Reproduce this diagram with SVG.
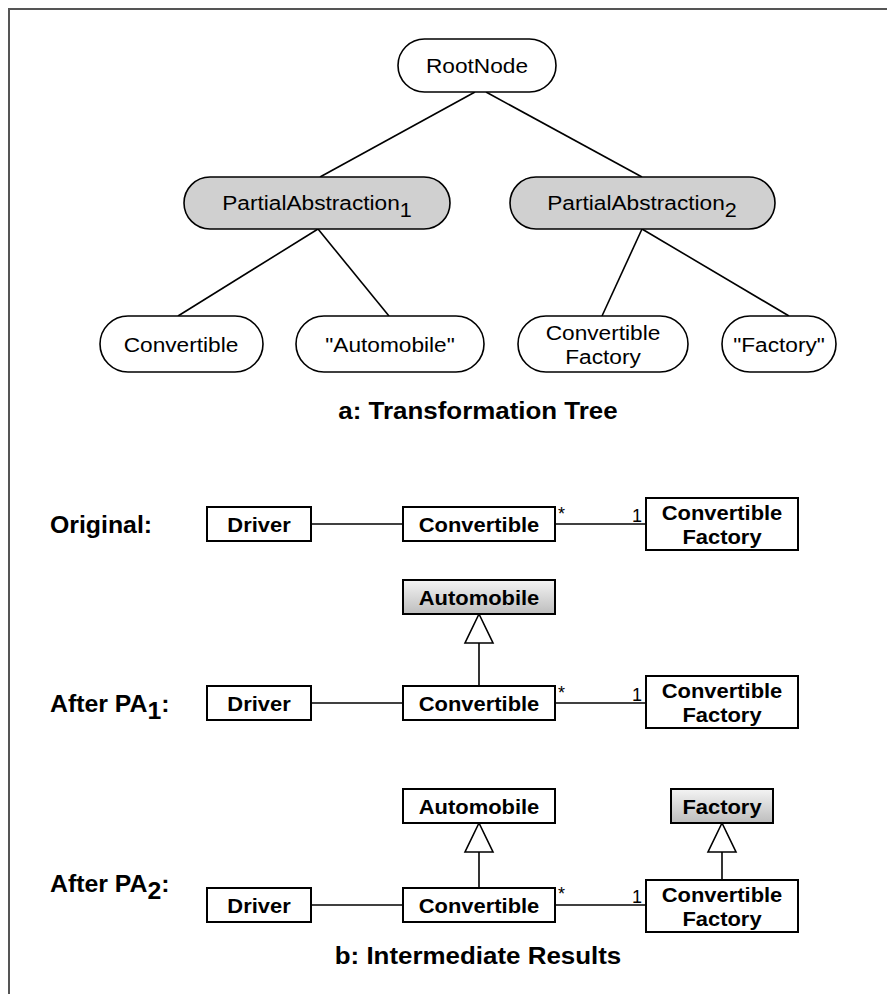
<svg xmlns="http://www.w3.org/2000/svg" width="887" height="994" viewBox="0 0 887 994">
<style>
.frame{stroke:#555;stroke-width:2;fill:none}
.pill{fill:#fff;stroke:#000;stroke-width:1.6}
.pa{fill:#d0d0d0;stroke:#000;stroke-width:1.6}
.cls{fill:#fff;stroke:#000;stroke-width:2}
.gcls{fill:url(#g);stroke:#000;stroke-width:2}
.t{font-family:"Liberation Sans",Arial,sans-serif;font-size:21px;text-anchor:middle;fill:#000}
.b{font-family:"Liberation Sans",Arial,sans-serif;font-size:20.5px;font-weight:bold;text-anchor:middle;fill:#000}
.lbl{font-family:"Liberation Sans",Arial,sans-serif;font-size:23px;font-weight:bold;fill:#000}
.ttl{font-family:"Liberation Sans",Arial,sans-serif;font-size:24px;font-weight:bold;text-anchor:middle;fill:#000}
.m{font-family:"Liberation Sans",Arial,sans-serif;font-size:18px;fill:#000}
.edge{stroke:#000;stroke-width:1.6;fill:none}
.tri{fill:#fff;stroke:#000;stroke-width:1.6}
</style>
<defs>
<linearGradient id="g" x1="0" y1="0" x2="0" y2="1">
<stop offset="0" stop-color="#f4f4f4"/>
<stop offset="1" stop-color="#bdbdbd"/>
</linearGradient>
</defs>
<path class="frame" d="M9 994 V9 H887"/>

<g id="connectors">
<line class="edge" x1="475" y1="92" x2="320" y2="177"/>
<line class="edge" x1="486" y1="92" x2="642" y2="177"/>
<line class="edge" x1="318" y1="229" x2="178" y2="316"/>
<line class="edge" x1="318" y1="229" x2="389" y2="316"/>
<line class="edge" x1="642" y1="229" x2="602" y2="316"/>
<line class="edge" x1="642" y1="229" x2="789" y2="316"/>
<line class="edge" x1="311" y1="524" x2="403" y2="524"/>
<line class="edge" x1="555" y1="524" x2="646" y2="524"/>
<line class="edge" x1="311" y1="703" x2="403" y2="703"/>
<line class="edge" x1="555" y1="703" x2="646" y2="703"/>
<line class="edge" x1="479" y1="643" x2="479" y2="686"/>
<polygon class="tri" points="479,614 465,643 493,643"/>
<line class="edge" x1="311" y1="905" x2="403" y2="905"/>
<line class="edge" x1="555" y1="905" x2="646" y2="905"/>
<line class="edge" x1="479" y1="852" x2="479" y2="888"/>
<polygon class="tri" points="479,823 465,852 493,852"/>
<line class="edge" x1="722" y1="852" x2="722" y2="880"/>
<polygon class="tri" points="722,823 708,852 736,852"/>
</g>

<g id="rootnode">
<rect class="pill" x="398" y="39" width="158" height="53" rx="26.5"/>
<text class="t" transform="translate(477 73) scale(1.08 1)">RootNode</text>
</g>
<g id="pa1">
<rect class="pa" x="184" y="177" width="266" height="52" rx="26"/>
<text class="t" transform="translate(317 210) scale(1.08 1)">PartialAbstraction<tspan dy="7" font-size="20">1</tspan></text>
</g>
<g id="pa2">
<rect class="pa" x="510" y="177" width="265" height="52" rx="26"/>
<text class="t" transform="translate(642 210) scale(1.08 1)">PartialAbstraction<tspan dy="7" font-size="20">2</tspan></text>
</g>
<g id="leaf-convertible">
<rect class="pill" x="100" y="316" width="163" height="56" rx="28"/>
<text class="t" transform="translate(181 352) scale(1.08 1)">Convertible</text>
</g>
<g id="leaf-automobile">
<rect class="pill" x="296" y="316" width="188" height="56" rx="28"/>
<text class="t" transform="translate(390 352) scale(1.08 1)">"Automobile"</text>
</g>
<g id="leaf-convfactory">
<rect class="pill" x="518" y="316" width="170" height="56" rx="28"/>
<text class="t" transform="translate(603 340) scale(1.08 1)">Convertible</text>
<text class="t" transform="translate(603 364) scale(1.08 1)">Factory</text>
</g>
<g id="leaf-factory">
<rect class="pill" x="722" y="316" width="114" height="56" rx="28"/>
<text class="t" transform="translate(779 352) scale(1.08 1)">"Factory"</text>
</g>
<text class="ttl" transform="translate(478 419) scale(1.08 1)">a: Transformation Tree</text>

<text class="lbl" transform="translate(50 533) scale(1.08 1)">Original:</text>
<g id="orig-driver">
<rect class="cls" x="207" y="507" width="104" height="34"/>
<text class="b" transform="translate(259 531.5) scale(1.07 1)">Driver</text>
</g>
<g id="orig-convertible">
<rect class="cls" x="403" y="507" width="152" height="34"/>
<text class="b" transform="translate(479 531.5) scale(1.07 1)">Convertible</text>
</g>
<g id="orig-cf">
<rect class="cls" x="646" y="498" width="152" height="52"/>
<text class="b" transform="translate(722 519.5) scale(1.07 1)">Convertible</text>
<text class="b" transform="translate(722 543.5) scale(1.07 1)">Factory</text>
</g>
<text class="m" x="558" y="520" font-size="15">*</text>
<text class="m" x="632" y="522">1</text>

<text class="lbl" transform="translate(50 712) scale(1.08 1)">After PA<tspan dy="7">1</tspan><tspan dy="-7">:</tspan></text>
<g id="pa1-automobile">
<rect class="gcls" x="403" y="580" width="152" height="34"/>
<text class="b" transform="translate(479 604.5) scale(1.07 1)">Automobile</text>
</g>
<g id="pa1-driver">
<rect class="cls" x="207" y="686" width="104" height="34"/>
<text class="b" transform="translate(259 710.5) scale(1.07 1)">Driver</text>
</g>
<g id="pa1-convertible">
<rect class="cls" x="403" y="686" width="152" height="34"/>
<text class="b" transform="translate(479 710.5) scale(1.07 1)">Convertible</text>
</g>
<g id="pa1-cf">
<rect class="cls" x="646" y="676" width="152" height="52"/>
<text class="b" transform="translate(722 697.5) scale(1.07 1)">Convertible</text>
<text class="b" transform="translate(722 721.5) scale(1.07 1)">Factory</text>
</g>
<text class="m" x="558" y="699" font-size="15">*</text>
<text class="m" x="632" y="701">1</text>

<text class="lbl" transform="translate(50 892) scale(1.08 1)">After PA<tspan dy="7">2</tspan><tspan dy="-7">:</tspan></text>
<g id="pa2-automobile">
<rect class="cls" x="403" y="789" width="152" height="34"/>
<text class="b" transform="translate(479 813.5) scale(1.07 1)">Automobile</text>
</g>
<g id="pa2-factory">
<rect class="gcls" x="671" y="789" width="102" height="34"/>
<text class="b" transform="translate(722 813.5) scale(1.07 1)">Factory</text>
</g>
<g id="pa2-driver">
<rect class="cls" x="207" y="888" width="104" height="34"/>
<text class="b" transform="translate(259 912.5) scale(1.07 1)">Driver</text>
</g>
<g id="pa2-convertible">
<rect class="cls" x="403" y="888" width="152" height="34"/>
<text class="b" transform="translate(479 912.5) scale(1.07 1)">Convertible</text>
</g>
<g id="pa2-cf">
<rect class="cls" x="646" y="880" width="152" height="52"/>
<text class="b" transform="translate(722 901.5) scale(1.07 1)">Convertible</text>
<text class="b" transform="translate(722 925.5) scale(1.07 1)">Factory</text>
</g>
<text class="m" x="558" y="900" font-size="15">*</text>
<text class="m" x="632" y="903">1</text>

<text class="ttl" transform="translate(478 964) scale(1.08 1)">b: Intermediate Results</text>
</svg>
